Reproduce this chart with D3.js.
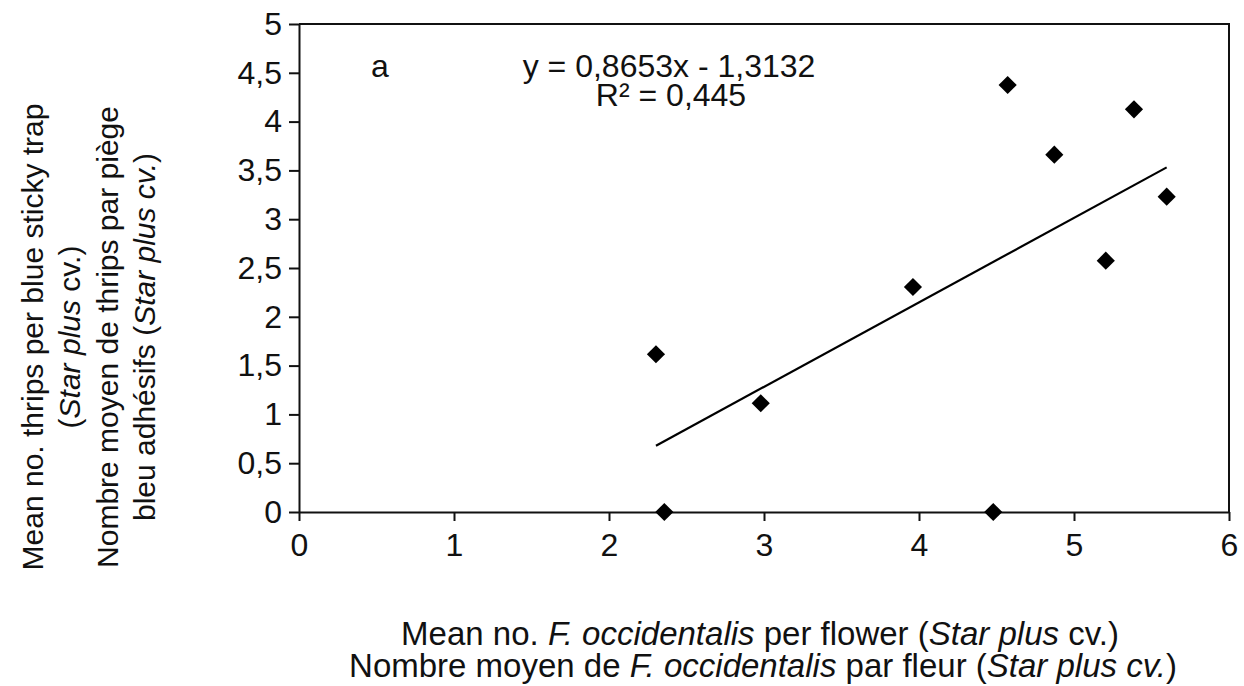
<!DOCTYPE html>
<html>
<head>
<meta charset="utf-8">
<script src="https://cdn.jsdelivr.net/npm/d3@7/dist/d3.min.js"></script>
<style>
  html, body { margin: 0; padding: 0; background: #fff; }
  svg { display: block; font-family: "Liberation Sans", Arial, sans-serif; }
</style>
</head>
<body>
<svg id="chart" width="1244" height="686"></svg>
<script>
// ---- data ----
const flowerMeans = [2.303, 2.357, 2.979, 3.961, 4.479, 4.572, 4.873, 5.205, 5.387, 5.598];
const trapMeans   = [1.616, 0.000, 1.114, 2.305, 0.000, 4.375, 3.661, 2.575, 4.126, 3.231];
const xTicks = [0, 1, 2, 3, 4, 5, 6];
const yTicks = [0, 0.5, 1, 1.5, 2, 2.5, 3, 3.5, 4, 4.5, 5];
const slope = 0.8653;
const intercept = -1.3132;
const equationText = "y = 0,8653x - 1,3132";
const r2Text = "R² = 0,445";
const panelLabel = "a";

const svg = d3.select("#chart");
const m = { left: 299, right: 1229, top: 24, bottom: 512 };
const x = d3.scaleLinear().domain([0, 6]).range([m.left, m.right]);
const y = d3.scaleLinear().domain([0, 5]).range([m.bottom, m.top]);
const fmt = v => String(v).replace(".", ",");
const FS = 32;      // horizontal text
const FS_X = 33;    // x-axis title
const FS_R = 30;    // rotated y-axis title

// frame (top & right)
svg.append("path")
  .attr("d", `M${m.left},${m.top}H${m.right}V${m.bottom}`)
  .attr("fill", "none").attr("stroke", "#111").attr("stroke-width", 2);

// x axis
const gx = svg.append("g").attr("transform", `translate(0,${m.bottom})`)
  .call(d3.axisBottom(x).tickValues(xTicks).tickFormat(fmt).tickSize(9).tickSizeOuter(0).tickPadding(12));
// y axis
const gy = svg.append("g").attr("transform", `translate(${m.left},0)`)
  .call(d3.axisLeft(y).tickValues(yTicks).tickFormat(fmt).tickSize(10).tickSizeOuter(0).tickPadding(7));
[gx, gy].forEach(g => {
  g.select(".domain").attr("stroke", "#111").attr("stroke-width", 2);
  g.selectAll(".tick line").attr("stroke", "#111").attr("stroke-width", 2);
  g.selectAll(".tick text").attr("fill", "#111").style("font-size", FS + "px")
    .style("font-family", '"Liberation Sans", Arial, sans-serif');
});

// trend line
const xMin = d3.min(flowerMeans), xMax = d3.max(flowerMeans);
svg.append("line")
  .attr("x1", x(xMin)).attr("y1", y(slope * xMin + intercept))
  .attr("x2", x(xMax)).attr("y2", y(slope * xMax + intercept))
  .attr("stroke", "#000").attr("stroke-width", 2.2);

// points
const diamond = d3.symbol().type(d3.symbolSquare).size(165);
svg.append("g").selectAll("path").data(flowerMeans.map((v, i) => [v, trapMeans[i]]))
  .join("path")
  .attr("d", diamond)
  .attr("transform", d => `translate(${x(d[0])},${y(d[1])}) rotate(45)`)
  .attr("fill", "#000");

// annotations
svg.append("text").attr("x", 371).attr("y", 77).style("font-size", FS + "px").attr("fill", "#111").text(panelLabel);
svg.append("text").attr("x", 669).attr("y", 77).attr("text-anchor", "middle").style("font-size", FS + "px").attr("fill", "#111").text(equationText);
svg.append("text").attr("x", 671).attr("y", 106).attr("text-anchor", "middle").style("font-size", FS + "px").attr("fill", "#111").text(r2Text);

// rich text helper
function rich(sel, parts) {
  parts.forEach(p => sel.append("tspan").style("font-style", p[1] ? "italic" : "normal").text(p[0]));
}

// x title
const xt1 = svg.append("text").attr("x", 760).attr("y", 645).attr("text-anchor", "middle").style("font-size", FS_X + "px").attr("fill", "#111");
rich(xt1, [["Mean no. ", 0], ["F. occidentalis", 1], [" per flower (", 0], ["Star plus", 1], [" cv.)", 0]]);
const xt2 = svg.append("text").attr("x", 763).attr("y", 677).attr("text-anchor", "middle").style("font-size", FS_X + "px").attr("fill", "#111");
rich(xt2, [["Nombre moyen de ", 0], ["F. occidentalis", 1], [" par fleur (", 0], ["Star plus cv.", 1], [")", 0]]);

// y title
const yLines = [
  { cx: 43, parts: [["Mean no. thrips per blue sticky trap", 0]] },
  { cx: 80, parts: [["(", 0], ["Star plus", 1], [" cv.)", 0]] },
  { cx: 118, parts: [["Nombre moyen de thrips par piège", 0]] },
  { cx: 155, parts: [["bleu adhésifs (", 0], ["Star plus cv.", 1], [")", 0]] }
];
yLines.forEach(l => {
  const t = svg.append("text")
    .attr("transform", `translate(${l.cx},337) rotate(-90)`)
    .attr("text-anchor", "middle").style("font-size", FS_R + "px").attr("fill", "#111");
  rich(t, l.parts);
});
</script>
</body>
</html>
